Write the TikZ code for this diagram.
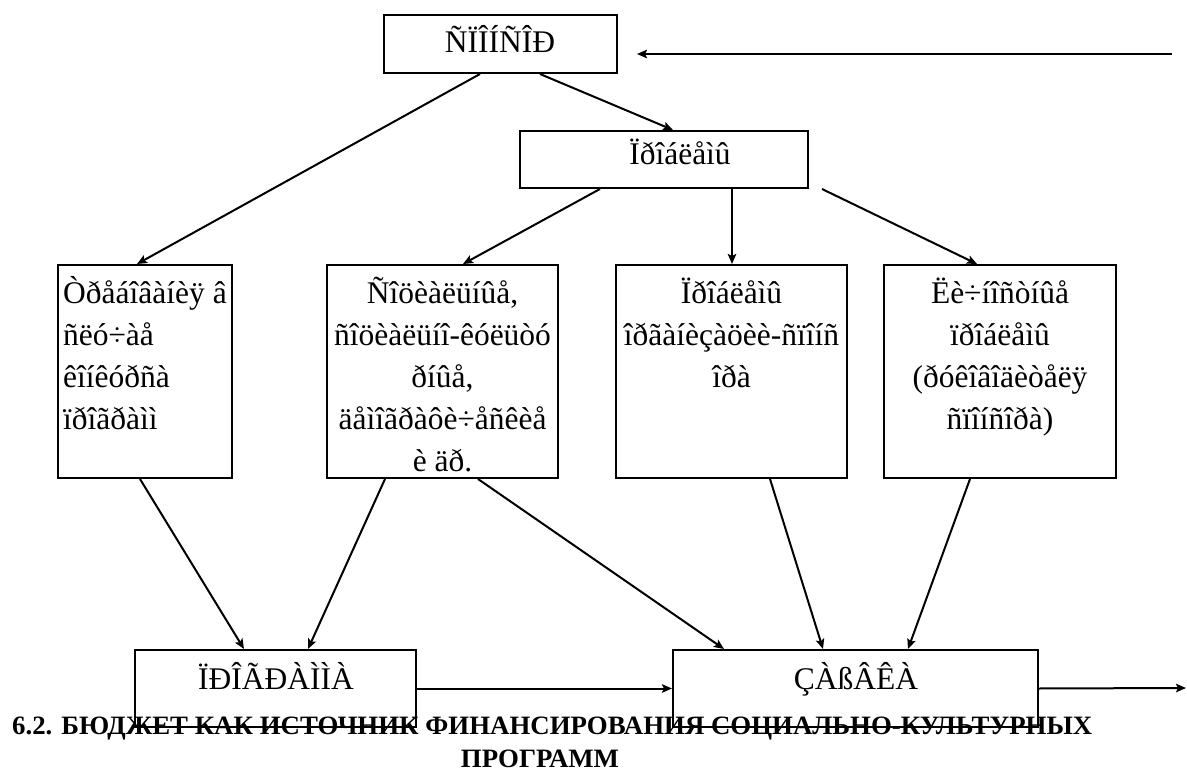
\documentclass[tikz,border=0pt]{standalone}
\usepackage{fontspec}
\setmainfont{Liberation Serif}
\usetikzlibrary{arrows.meta,calc}
\newsavebox\hdboxa
\newcommand\hdratio{1}
\begin{document}
\sbox\hdboxa{\fontsize{26.5}{30}\selectfont\bfseries 6.2. БЮДЖЕТ КАК ИСТОЧНИК ФИНАНСИРОВАНИЯ СОЦИАЛЬНО-КУЛЬТУРНЫХ}%
\pgfmathsetmacro\hdratio{1080/\the\wd\hdboxa}%
\begin{tikzpicture}[x=1pt,y=-1pt,
  box/.style={draw, line width=2pt, inner sep=0pt},
  lbl/.style={inner sep=0pt, font=\fontsize{31.5}{42}\selectfont},
  arr/.style={line width=2pt, -{Stealth[length=10pt,width=8.5pt,inset=2pt]}}]
\useasboundingbox (0,0) rectangle (1187,773);
% heading
\node[anchor=base west, inner sep=0pt] (hd1) at (12,734) {\scalebox{\hdratio}[1]{\usebox\hdboxa}};
\node[anchor=base, inner sep=0pt] (hd2) at (540,767) {\scalebox{\hdratio}[1]{\fontsize{26.5}{30}\selectfont\bfseries ПРОГРАММ}};
% boxes
\node[box, minimum width=233pt, minimum height=58pt] (sp) at (500.5,44) {};
\node[box, minimum width=288pt, minimum height=57pt] (pr) at (664,159.5) {};
\node[box, minimum width=174pt, minimum height=213pt] (b1) at (145,371.5) {};
\node[box, minimum width=231pt, minimum height=213pt] (b2) at (442.5,371.5) {};
\node[box, minimum width=231pt, minimum height=213pt] (b3) at (731.5,371.5) {};
\node[box, minimum width=232pt, minimum height=213pt] (b4) at (1000,371.5) {};
\node[box, minimum width=281pt, minimum height=77pt] (pg) at (275.5,688.5) {};
\node[box, minimum width=365pt, minimum height=77pt] (zv) at (855.5,688.5) {};
% labels
\node[lbl, anchor=base] (tsp) at (500,53) {ÑÏÎÍÑÎÐ};
\node[lbl, anchor=base] (tpr) at (680,165) {Ïðîáëåìû};
\node[lbl, anchor=base] (tpg) at (276,689) {ÏÐÎÃÐÀÌÌÀ};
\node[lbl, anchor=base] (tzv) at (856,689) {ÇÀßÂÊÀ};
\node[lbl, anchor=north west, align=left] (t1) at (63,273.6) {\strut Òðåáîâàíèÿ â\\ñëó÷àå\\êîíêóðñà\\ïðîãðàìì};
\node[lbl, anchor=north, align=center] (t2) at (442.5,273.6) {\strut Ñîöèàëüíûå,\\ñîöèàëüíî-êóëüòó\\ðíûå,\\äåìîãðàôè÷åñêèå\\è äð.};
\node[lbl, anchor=north, align=center] (t3) at (731.5,273.6) {\strut Ïðîáëåìû\\îðãàíèçàöèè-ñïîíñ\\îðà};
\node[lbl, anchor=north, align=center] (t4) at (1000,273.6) {\strut Ëè÷íîñòíûå\\ïðîáëåìû\\(ðóêîâîäèòåëÿ\\ñïîíñîðà)};
% free ends
\coordinate (inR) at (1172,54);
\coordinate (inT) at (637,54);
\coordinate (outR) at (1186,688);
% connectors
\draw[arr] (inR) -- (inT);
\draw[arr] ([xshift=-20.5pt]sp.south) -- ([xshift=-8pt]b1.north);
\draw[arr] ([xshift=39.5pt]sp.south) -- ([xshift=9pt]pr.north);
\draw[arr] ([xshift=-64pt]pr.south) -- ([xshift=20.5pt]b2.north);
\draw[arr] ([xshift=0.5pt]b3.north |- pr.south) -- ([xshift=0.5pt]b3.north);
\draw[arr] ([xshift=158pt]pr.south) -- ([xshift=-23pt]b4.north);
\draw[arr] ([xshift=-5pt]b1.south) -- ([xshift=-31.5pt]pg.north);
\draw[arr] ([xshift=-57.5pt]b2.south) -- ([xshift=32.5pt]pg.north);
\draw[arr] ([xshift=35.5pt]b2.south) -- ([xshift=-131.5pt]zv.north);
\draw[arr] ([xshift=38.5pt]b3.south) -- ([xshift=-32.5pt]zv.north);
\draw[arr] ([xshift=-30pt]b4.south) -- ([xshift=52.5pt]zv.north);
\draw[arr] (pg.east) -- (zv.west);
\draw[arr] (zv.east) -- (outR);
\end{tikzpicture}
\end{document}
